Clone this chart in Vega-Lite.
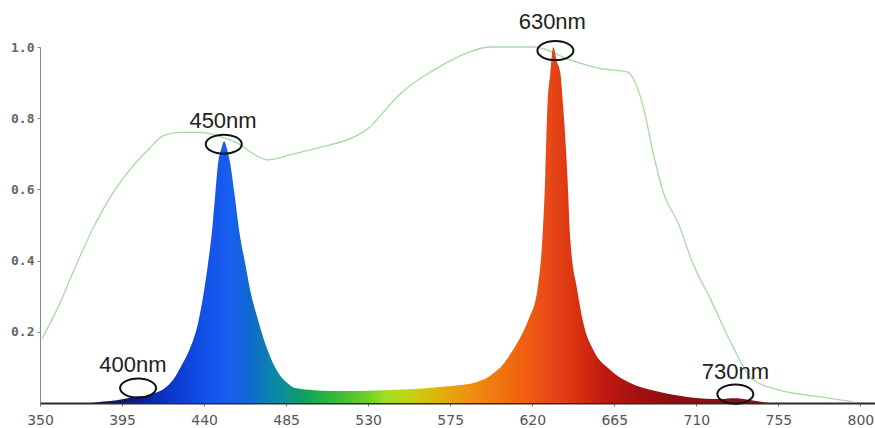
{
  "$schema": "https://vega.github.io/schema/vega-lite/v6.json",
  "width": 835,
  "height": 356,
  "autosize": {"type": "none"},
  "padding": {"left": 40, "top": 47, "right": 0, "bottom": 25},
  "background": "white",
  "config": {"view": {"stroke": null}},
  "datasets": {
    "transmission": [
      {"nm": 351, "v": 0.18}, {"nm": 360, "v": 0.27}, {"nm": 370, "v": 0.39}, {"nm": 380, "v": 0.5},
      {"nm": 390, "v": 0.59}, {"nm": 400, "v": 0.66}, {"nm": 410, "v": 0.715}, {"nm": 418, "v": 0.752},
      {"nm": 427, "v": 0.76}, {"nm": 438, "v": 0.76}, {"nm": 449, "v": 0.748}, {"nm": 460, "v": 0.725},
      {"nm": 467, "v": 0.7}, {"nm": 475, "v": 0.683}, {"nm": 487, "v": 0.697}, {"nm": 505, "v": 0.72},
      {"nm": 522, "v": 0.747}, {"nm": 531, "v": 0.775}, {"nm": 538, "v": 0.815}, {"nm": 548, "v": 0.87},
      {"nm": 566, "v": 0.935}, {"nm": 584, "v": 0.983}, {"nm": 597, "v": 1.0}, {"nm": 621, "v": 1.0},
      {"nm": 641, "v": 0.963}, {"nm": 657, "v": 0.94}, {"nm": 672, "v": 0.93}, {"nm": 676, "v": 0.905},
      {"nm": 681, "v": 0.83}, {"nm": 686, "v": 0.71}, {"nm": 692, "v": 0.59}, {"nm": 700, "v": 0.506},
      {"nm": 708, "v": 0.393}, {"nm": 718, "v": 0.289}, {"nm": 729, "v": 0.169}, {"nm": 741, "v": 0.065},
      {"nm": 755, "v": 0.037}, {"nm": 778, "v": 0.017}, {"nm": 796, "v": 0.003}
    ],
    "spectrum": [
      {"nm": 378, "v": 0}, {"nm": 385, "v": 0.004}, {"nm": 392, "v": 0.008}, {"nm": 398, "v": 0.013},
      {"nm": 403, "v": 0.018}, {"nm": 408, "v": 0.02}, {"nm": 413, "v": 0.028}, {"nm": 418, "v": 0.04},
      {"nm": 423, "v": 0.065}, {"nm": 427, "v": 0.1}, {"nm": 432, "v": 0.15}, {"nm": 436.7, "v": 0.225},
      {"nm": 439.5, "v": 0.3}, {"nm": 442.2, "v": 0.393}, {"nm": 444.4, "v": 0.486}, {"nm": 446, "v": 0.579},
      {"nm": 447.7, "v": 0.674}, {"nm": 449.5, "v": 0.715}, {"nm": 451, "v": 0.735}, {"nm": 452.5, "v": 0.715},
      {"nm": 454.3, "v": 0.674}, {"nm": 456.9, "v": 0.579}, {"nm": 459.2, "v": 0.486}, {"nm": 462.5, "v": 0.393},
      {"nm": 465.3, "v": 0.317}, {"nm": 469.1, "v": 0.242}, {"nm": 473, "v": 0.175}, {"nm": 479, "v": 0.1},
      {"nm": 482, "v": 0.075}, {"nm": 486, "v": 0.055}, {"nm": 490, "v": 0.042}, {"nm": 500, "v": 0.036},
      {"nm": 510, "v": 0.034}, {"nm": 525, "v": 0.034}, {"nm": 545, "v": 0.037}, {"nm": 560, "v": 0.041},
      {"nm": 572, "v": 0.046}, {"nm": 582, "v": 0.051}, {"nm": 590, "v": 0.06}, {"nm": 595, "v": 0.07},
      {"nm": 599, "v": 0.085}, {"nm": 604, "v": 0.108}, {"nm": 608, "v": 0.138}, {"nm": 613, "v": 0.18},
      {"nm": 618, "v": 0.235}, {"nm": 622.8, "v": 0.317}, {"nm": 625.5, "v": 0.458}, {"nm": 627.2, "v": 0.646},
      {"nm": 628.3, "v": 0.83}, {"nm": 629.9, "v": 0.927}, {"nm": 631.5, "v": 1.0}, {"nm": 633.5, "v": 0.96},
      {"nm": 635.4, "v": 0.927}, {"nm": 637, "v": 0.83}, {"nm": 639.2, "v": 0.646}, {"nm": 640.9, "v": 0.458},
      {"nm": 644.7, "v": 0.317}, {"nm": 648, "v": 0.225}, {"nm": 653.5, "v": 0.149}, {"nm": 662.8, "v": 0.093},
      {"nm": 673.8, "v": 0.056}, {"nm": 684.8, "v": 0.037}, {"nm": 695, "v": 0.025}, {"nm": 705, "v": 0.017},
      {"nm": 715, "v": 0.012}, {"nm": 725, "v": 0.011}, {"nm": 730, "v": 0.013}, {"nm": 735, "v": 0.012},
      {"nm": 742, "v": 0.006}, {"nm": 750, "v": 0}
    ],
    "marks": [
      {"nm": 403.8, "v": 0.042, "label": "400nm", "lnm": 401, "lv": 0.107},
      {"nm": 450.8, "v": 0.727, "label": "450nm", "lnm": 450.4, "lv": 0.792},
      {"nm": 632.7, "v": 0.99, "label": "630nm", "lnm": 631, "lv": 1.07},
      {"nm": 731.4, "v": 0.025, "label": "730nm", "lnm": 731.4, "lv": 0.087}
    ]
  },
  "layer": [
    {
      "data": {"name": "transmission"},
      "mark": {"type": "line", "color": "#a9d9a4", "strokeWidth": 1.3, "interpolate": "monotone"},
      "encoding": {
        "x": {
          "field": "nm", "type": "quantitative",
          "scale": {"domain": [350, 808], "nice": false, "zero": false},
          "axis": {
            "title": null, "values": [350, 395, 440, 485, 530, 575, 620, 665, 710, 755, 800],
            "grid": false, "domainColor": "#2a2a2a", "domainWidth": 2,
            "ticks": true, "tickSize": 3, "tickColor": "#777",
            "labelFont": "DejaVu Sans", "labelFontSize": 14, "labelColor": "#555",
            "labelPadding": 7, "labelFlush": false
          }
        },
        "y": {
          "field": "v", "type": "quantitative",
          "scale": {"domain": [0, 1], "nice": false},
          "axis": {
            "title": null, "values": [0.2, 0.4, 0.6, 0.8, 1.0], "format": ".1f",
            "grid": false, "domainColor": "#888", "domainWidth": 1,
            "ticks": true, "tickSize": 3, "tickColor": "#888",
            "labelFont": "DejaVu Sans Mono", "labelFontWeight": "bold", "labelFontSize": 13,
            "labelColor": "#666", "labelPadding": 3, "labelFlush": false
          }
        }
      }
    },
    {
      "data": {"name": "spectrum"},
      "mark": {
        "type": "area",
        "interpolate": "monotone",
        "color": {
          "gradient": "linear", "x1": 0, "y1": 0, "x2": 1, "y2": 0,
          "stops": [
            {"offset": 0, "color": "#1a1a40"},
            {"offset": 0.0457, "color": "#101860"},
            {"offset": 0.0726, "color": "#0c1e90"},
            {"offset": 0.113, "color": "#0a35c8"},
            {"offset": 0.1667, "color": "#1450e8"},
            {"offset": 0.207, "color": "#1760f0"},
            {"offset": 0.234, "color": "#1068d0"},
            {"offset": 0.261, "color": "#0c80b0"},
            {"offset": 0.288, "color": "#0c9090"},
            {"offset": 0.3145, "color": "#10a060"},
            {"offset": 0.355, "color": "#30b838"},
            {"offset": 0.4086, "color": "#70d028"},
            {"offset": 0.435, "color": "#a0e020"},
            {"offset": 0.476, "color": "#c8d010"},
            {"offset": 0.516, "color": "#e0b008"},
            {"offset": 0.5565, "color": "#f09010"},
            {"offset": 0.5968, "color": "#f07810"},
            {"offset": 0.637, "color": "#f06010"},
            {"offset": 0.677, "color": "#e84818"},
            {"offset": 0.718, "color": "#d83010"},
            {"offset": 0.758, "color": "#c01810"},
            {"offset": 0.812, "color": "#a01010"},
            {"offset": 0.866, "color": "#8a1010"},
            {"offset": 1, "color": "#7a1515"}
          ]
        }
      },
      "encoding": {
        "x": {"field": "nm", "type": "quantitative"},
        "y": {"field": "v", "type": "quantitative"}
      }
    },
    {
      "data": {"name": "marks"},
      "mark": {
        "type": "point", "filled": false, "stroke": "#111", "strokeWidth": 2, "opacity": 1,
        "shape": "M-1,0A1,0.53,0,1,0,1,0A1,0.53,0,1,0,-1,0Z", "size": 1296
      },
      "encoding": {
        "x": {"field": "nm", "type": "quantitative"},
        "y": {"field": "v", "type": "quantitative"}
      }
    },
    {
      "data": {"name": "marks"},
      "mark": {"type": "text", "font": "Liberation Sans", "fontSize": 22, "color": "#222", "baseline": "middle", "align": "center"},
      "encoding": {
        "x": {"field": "lnm", "type": "quantitative"},
        "y": {"field": "lv", "type": "quantitative"},
        "text": {"field": "label"}
      }
    }
  ]
}
